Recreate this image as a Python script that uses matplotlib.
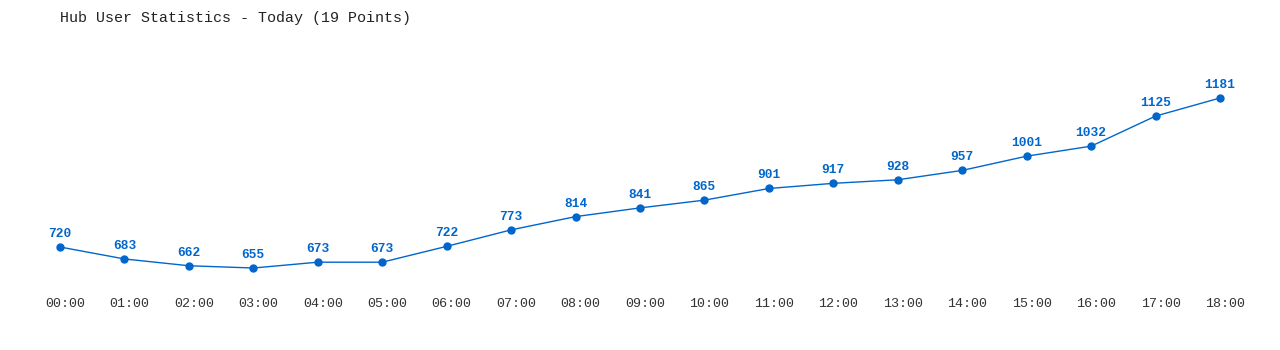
import matplotlib
matplotlib.use("Agg")
import matplotlib.pyplot as plt
import matplotlib.transforms as mtransforms

hours = ["00:00", "01:00", "02:00", "03:00", "04:00", "05:00", "06:00", "07:00", "08:00",
         "09:00", "10:00", "11:00", "12:00", "13:00", "14:00", "15:00", "16:00", "17:00", "18:00"]
users = [720, 683, 662, 655, 673, 673, 722, 773, 814, 841, 865, 901, 917, 928, 957, 1001, 1032, 1125, 1181]

title = "Hub User Statistics - Today (19 Points)"
blue = "#0066CC"
mono = ["Liberation Mono", "DejaVu Sans Mono"]

fig = plt.figure(figsize=(12.8, 3.5), dpi=100)
W, H = 1280, 350
top_px, bot_px = 40, 290
ax = fig.add_axes([0, (H - bot_px) / H, 1, (bot_px - top_px) / H])

x = list(range(len(hours)))
ax.plot(x, users, color=blue, lw=1, marker="o", ms=5, mec=blue, mfc=blue)

for xi, v in zip(x, users):
    ax.annotate(str(v), (xi, v), xytext=(0, 13), textcoords="offset pixels",
                ha="center", va="center", fontsize=9.3, fontweight="bold",
                color=blue, family=mono)

ppx = (1220 - 60) / 18
ax.set_xlim(-60 / ppx, 18 + 60 / ppx)
ppy = (247 - 98) / (1181 - 720)
ax.set_ylim(720 - (bot_px - 247) / ppy, 720 + (247 - top_px) / ppy)

ax.set_xticks(x)
ax.set_xticklabels(hours, family=mono, fontsize=9.6, color="#333333")
ax.tick_params(axis="x", length=0, pad=5.5)
shift = mtransforms.ScaledTranslation(5 / 100, 0, fig.dpi_scale_trans)
for lbl in ax.get_xticklabels():
    lbl.set_transform(lbl.get_transform() + shift)
ax.set_yticks([])
for s in ax.spines.values():
    s.set_visible(False)

fig.text(60 / W, 1 - 18 / H, title, ha="left", va="center", family=mono,
         fontsize=10.8, color="#222222")

fig.savefig("out.png", dpi=100, facecolor="white")
